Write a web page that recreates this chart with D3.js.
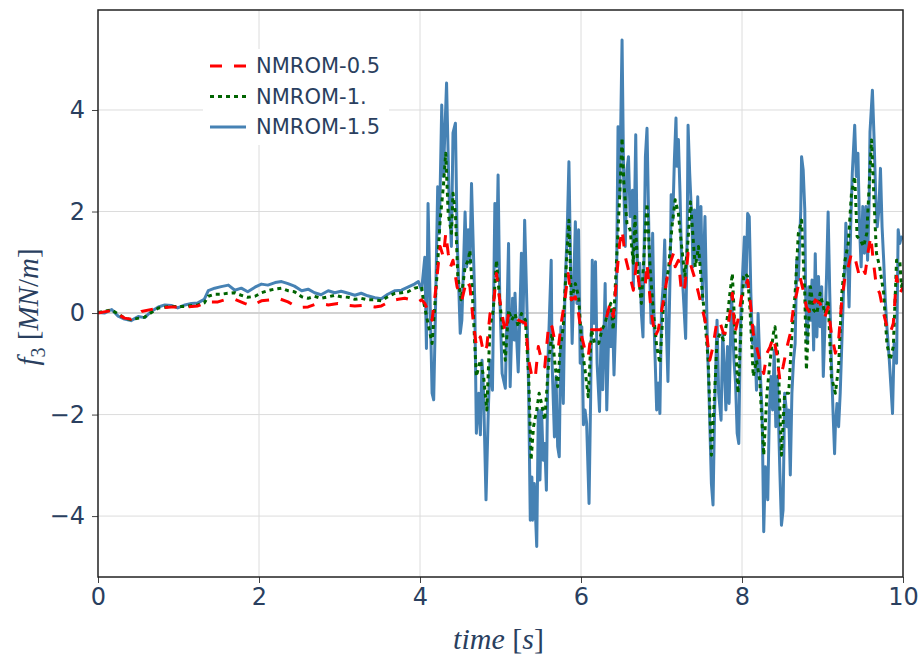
<!DOCTYPE html>
<html>
<head>
<meta charset="utf-8">
<script src="https://cdnjs.cloudflare.com/ajax/libs/d3/7.8.5/d3.min.js"></script>
<style>
    body { margin: 0; background: #fff; }
    text { font-family: "DejaVu Sans", Verdana, sans-serif; fill: #2a3f5f; }
    .mathText { font-family: "Liberation Serif", "DejaVu Serif", serif; }
</style>
</head>
<body>
<div id="chart"></div>
<script>
// Series data: time [s] and f3 [MN/m]
var tNm05 = [0, 0.17, 0.33, 0.41, 0.54, 0.75, 0.91, 1.08, 1.24, 1.37, 1.49, 1.57, 1.7, 1.82, 1.9, 2.03, 2.15, 2.24, 2.36, 2.48,
    2.61, 2.73, 2.86, 2.98, 3.06, 3.19, 3.31, 3.44, 3.52, 3.64, 3.73, 3.81, 3.89, 3.98,
    4.02, 4.06, 4.15, 4.19, 4.25, 4.29, 4.32, 4.35, 4.38, 4.41, 4.46, 4.52, 4.58, 4.62, 4.66, 4.7, 4.75, 4.79, 4.83, 4.87,
    4.91, 4.95, 4.99, 5.06, 5.1, 5.14, 5.22, 5.31, 5.35, 5.39, 5.43, 5.47, 5.51, 5.55, 5.6, 5.64, 5.68, 5.72, 5.76, 5.8,
    5.84, 5.88, 5.93, 5.97, 6.01, 6.05, 6.09, 6.13, 6.17, 6.24, 6.3, 6.36, 6.4, 6.44, 6.48, 6.51, 6.55, 6.59, 6.65, 6.69,
    6.73, 6.8, 6.82, 6.87, 6.92, 6.96, 7.01, 7.04, 7.09, 7.15, 7.17, 7.21, 7.25, 7.29, 7.33, 7.37, 7.42, 7.46, 7.5, 7.54,
    7.6, 7.64, 7.69, 7.73, 7.77, 7.81, 7.85, 7.88, 7.91, 7.95, 8.0, 8.04, 8.07, 8.1, 8.14, 8.18, 8.22, 8.27, 8.31, 8.35,
    8.39, 8.43, 8.47, 8.51, 8.56, 8.6, 8.64, 8.68, 8.72, 8.76, 8.8, 8.85, 8.91, 8.97, 9.03, 9.07, 9.11, 9.16, 9.2, 9.24,
    9.28, 9.32, 9.36, 9.4, 9.45, 9.49, 9.53, 9.57, 9.6, 9.63, 9.67, 9.71, 9.76, 9.8, 9.84, 9.88, 9.92, 9.96, 10];
var nmrom05 = [0, 0.05, -0.1, -0.12, 0.03, 0.1, 0.12, 0.12, 0.14, 0.22, 0.22, 0.26, 0.27, 0.19, 0.14, 0.24, 0.26, 0.29, 0.22, 0.11,
    0.12, 0.19, 0.16, 0.19, 0.16, 0.14, 0.15, 0.12, 0.14, 0.24, 0.27, 0.29, 0.26, 0.22,
    0.26, 0.19, -0.14, 0.39, 1.31, 1.11, 1.57, 1.18, 0.91, 1.04, 0.52, 0.26, 0.65, 0.52, -0.14, -0.66, -0.47, -0.79, -0.66, -0.01,
    0.12, 0.78, 0.26, -0.4, -0.01, -0.01, -0.14, -0.2, -0.93, -1.25, -1.3, -0.66, -0.93, -1.06, -0.2, -0.27, -0.6, -0.66, -0.14, 0.26,
    0.78, 0.26, 0.32, -0.01, -0.47, -0.73, -0.86, -0.33, -0.33, -0.33, -0.2, 0.19, -0.07, 0.65, 1.37, 1.64, 1.11, 0.85, 0.45, 0.98,
    0.45, 0.58, 0.98, 0.06, -0.47, -0.33, 0.12, 0.39, 0.91, 1.18, 0.91, 1.04, 0.39, 0.52, 1.18, 0.91, 0.65, 0.39, 0.12, -0.14,
    -0.93, -0.66, -0.14, -0.2, -0.4, -0.4, -0.01, 0.39, -0.4, -0.14, 0.39, 0.52, 0.65, 0.26, -0.4, -0.66, -0.93, -1.19, -0.79, -0.66,
    -0.47, -0.79, -1.32, -1.06, -0.66, -0.4, 0.12, 0.39, 0.72, 0.45, 0.12, -0.01, 0.26, 0.19, -0.07, 0.12, -0.4, -0.79, -0.53, 0.26,
    0.72, 0.91, 1.18, 1.11, 0.78, 0.91, 0.78, 1.24, 1.51, 1.04, 0.52, 0.39, -0.01, -0.27, -0.4, -0.2, 0.72, 0.39, 0.5];

var tNm1 = [0, 0.17, 0.33, 0.41, 0.58, 0.75, 0.91, 1.08, 1.24, 1.32, 1.37, 1.45, 1.53, 1.61, 1.7, 1.78, 1.86, 1.95, 2.03, 2.11,
    2.19, 2.28, 2.36, 2.44, 2.53, 2.61, 2.69, 2.77, 2.86, 2.94, 3.02, 3.11, 3.19, 3.27, 3.35, 3.44, 3.52, 3.6, 3.69, 3.77,
    3.85, 3.93,
    4.02, 4.04, 4.15, 4.21, 4.25, 4.29, 4.32, 4.35, 4.39, 4.41, 4.44, 4.47, 4.51, 4.56, 4.6, 4.62, 4.64, 4.68, 4.7, 4.75,
    4.79, 4.83, 4.87, 4.91, 4.95, 4.99, 5.06, 5.1, 5.14, 5.18, 5.22, 5.26, 5.31, 5.35, 5.38, 5.41, 5.45, 5.48, 5.51, 5.55,
    5.6, 5.64, 5.68, 5.71, 5.74, 5.78, 5.82, 5.85, 5.88, 5.93, 5.97, 6.01, 6.05, 6.09, 6.13, 6.17, 6.22, 6.26, 6.3, 6.34,
    6.37, 6.4, 6.44, 6.48, 6.51, 6.53, 6.57, 6.61, 6.65, 6.67, 6.71, 6.75, 6.8, 6.82, 6.86, 6.9, 6.94, 6.98, 7.02, 7.04,
    7.09, 7.13, 7.17, 7.21, 7.25, 7.29, 7.33, 7.36, 7.4, 7.42, 7.46, 7.5, 7.54, 7.58, 7.62, 7.66, 7.69, 7.73, 7.77, 7.81,
    7.85, 7.88, 7.91, 7.95, 7.99, 8.02, 8.04, 8.07, 8.1, 8.14, 8.18, 8.22, 8.27, 8.31, 8.35, 8.39, 8.41, 8.45, 8.49, 8.53,
    8.58, 8.62, 8.66, 8.7, 8.74, 8.78, 8.8, 8.85, 8.89, 8.93, 8.97, 9.03, 9.07, 9.11, 9.16, 9.2, 9.24, 9.28, 9.32, 9.36,
    9.4, 9.43, 9.47, 9.51, 9.55, 9.59, 9.61, 9.64, 9.67, 9.71, 9.76, 9.8, 9.84, 9.88, 9.92, 9.96, 9.98, 10];
var nmrom1 = [0.01, 0.06, -0.1, -0.13, -0.08, 0.1, 0.13, 0.13, 0.16, 0.2, 0.33, 0.37, 0.37, 0.39, 0.4, 0.35, 0.31, 0.33, 0.4, 0.44,
    0.47, 0.49, 0.44, 0.42, 0.32, 0.29, 0.33, 0.29, 0.32, 0.35, 0.32, 0.31, 0.27, 0.29, 0.26, 0.26, 0.24, 0.32, 0.39, 0.4,
    0.42, 0.49,
    0.52, 0.26, -0.6, 0.72, 1.83, 2.49, 3.15, 1.96, 1.57, 2.36, 1.96, 0.72, 0.26, 0.91, 1.04, 1.24, 0.72, -0.6, -1.25, -0.93,
    -1.25, -1.91, -0.27, 0.06, 1.04, 0.26, -0.93, 0.06, -0.14, -0.01, -0.27, -0.01, -0.14, -1.25, -2.9, -2.24, -1.91, -1.58, -1.78, -2.11,
    -0.93, -0.4, -1.06, -1.45, -0.73, -0.27, 1.04, 1.83, 0.26, 0.58, 0.32, -0.66, -1.12, -1.65, -0.33, -0.6, -0.6, -0.33, -0.2, 0.06,
    0.19, -0.33, 0.98, 2.29, 3.45, 2.62, 1.77, 1.64, 0.98, 1.9, 0.78, 0.19, 1.64, 2.16, 0.85, 0, -0.66, -0.99, 0.06, 0.39,
    0.91, 1.7, 2.23, 1.96, 1.31, 0.72, 1.44, 2.19, 1.31, 0.91, 1.31, 0.52, -0.14, -0.93, -2.8, -1.58, -0.53, -0.4, -0.53, -0.2,
    0.39, 0.78, -0.27, -1.58, -0.27, 0.72, 0.78, 0.72, 0.06, -1.25, -0.93, -1.32, -2.8, -1.58, -0.93, -0.4, -0.27, -0.93, -2.8, -1.58,
    -1.58, -0.4, 0.39, 1.57, 1.83, 0.39, -1.12, 0.52, 0.06, -0.01, 0.39, -0.01, 0.26, -1.25, -1.58, -1.06, 0.39, 1.04, 1.37, 2.36,
    2.69, 1.51, 1.44, 1.31, 1.57, 2.82, 3.41, 2.23, 1.18, 0.91, 0.39, -0.6, -0.93, -0.66, 1.04, 1.04, 0.52, 0.6];

var tNm15 = [0, 0.08, 0.17, 0.25, 0.33, 0.41, 0.5, 0.58, 0.66, 0.75, 0.83, 0.91, 0.99, 1.08, 1.16, 1.24, 1.32, 1.37, 1.45, 1.53,
    1.62, 1.7, 1.78, 1.86, 1.95, 2.03, 2.11, 2.2, 2.28, 2.36, 2.44, 2.53, 2.61, 2.69, 2.77, 2.86, 2.94, 3.02, 3.11, 3.19,
    3.27, 3.35, 3.44, 3.52, 3.6, 3.69, 3.77, 3.85, 3.93,
    3.98, 4.02, 4.06, 4.08, 4.1, 4.15, 4.17, 4.19, 4.22, 4.24, 4.27, 4.29, 4.33, 4.36, 4.39, 4.41, 4.44, 4.46, 4.5, 4.52,
    4.54, 4.56, 4.58, 4.6, 4.62, 4.64, 4.68, 4.7, 4.73, 4.75, 4.77, 4.79, 4.82, 4.85, 4.87, 4.9, 4.93, 4.95, 4.97,
    4.99, 5.02, 5.06, 5.1, 5.12, 5.15, 5.17, 5.18, 5.2, 5.22, 5.24, 5.26, 5.28, 5.3, 5.33, 5.35, 5.37, 5.39, 5.4, 5.42,
    5.45, 5.47, 5.49, 5.51, 5.53, 5.55, 5.57, 5.59, 5.63, 5.64, 5.67, 5.69, 5.71, 5.73, 5.75, 5.78, 5.8, 5.83, 5.85, 5.87, 5.89,
    5.93, 5.95, 5.97, 5.99, 6.01, 6.03, 6.05, 6.07, 6.1, 6.12, 6.14, 6.16, 6.18, 6.2, 6.23, 6.25, 6.27, 6.3, 6.32, 6.35,
    6.37, 6.39, 6.41, 6.44, 6.46, 6.48, 6.51, 6.53, 6.55, 6.57, 6.59, 6.61, 6.64, 6.65, 6.68, 6.7, 6.73, 6.75, 6.77, 6.8,
    6.82, 6.85, 6.87, 6.89, 6.91, 6.94, 6.96, 6.98, 7.0, 7.02, 7.04,
    7.06, 7.08, 7.11, 7.12, 7.14, 7.16, 7.18, 7.19, 7.21, 7.23, 7.25, 7.27, 7.3, 7.32, 7.33, 7.35, 7.38, 7.39, 7.41, 7.43,
    7.45, 7.47, 7.49, 7.51, 7.54, 7.57, 7.59, 7.62, 7.64, 7.66, 7.69, 7.71, 7.74, 7.76, 7.78, 7.8, 7.82, 7.84, 7.87, 7.9,
    7.92, 7.94, 7.96, 7.98, 8.0, 8.03,
    8.05, 8.07, 8.09, 8.11, 8.13, 8.15, 8.17, 8.18, 8.2, 8.22, 8.25, 8.27, 8.29, 8.32, 8.34, 8.36, 8.38, 8.4, 8.42, 8.44,
    8.47, 8.49, 8.51, 8.53, 8.55, 8.56, 8.58, 8.6, 8.62, 8.64, 8.66, 8.68, 8.7, 8.73, 8.74, 8.76, 8.78, 8.79, 8.81, 8.83,
    8.85, 8.87, 8.89, 8.91,
    8.93, 8.95, 8.97, 8.99, 9.01, 9.03, 9.05, 9.07, 9.09, 9.11, 9.13, 9.15, 9.16, 9.18, 9.2, 9.22, 9.24, 9.26, 9.28, 9.29,
    9.31, 9.33, 9.35, 9.37, 9.4, 9.42, 9.44, 9.46, 9.48, 9.5, 9.52, 9.54, 9.56, 9.58, 9.59, 9.62, 9.64, 9.66, 9.68, 9.7,
    9.72, 9.74, 9.76, 9.78, 9.8, 9.83, 9.85, 9.87, 9.89, 9.92, 9.94, 9.96, 9.98, 10];
var nmrom15 = [0.01, 0, 0.07, -0.06, -0.12, -0.15, -0.07, -0.09, 0.03, 0.12, 0.16, 0.15, 0.1, 0.16, 0.19, 0.2, 0.27, 0.44, 0.49, 0.52,
    0.55, 0.45, 0.49, 0.42, 0.51, 0.57, 0.55, 0.6, 0.62, 0.58, 0.53, 0.44, 0.47, 0.4, 0.36, 0.44, 0.4, 0.43, 0.39, 0.35,
    0.39, 0.34, 0.3, 0.28, 0.37, 0.44, 0.45, 0.51, 0.57,
    0.62, 0.45, 1.1, -0.7, 2.16, -1.58, -1.71, -0.14, 2.49, 1.57, 4.1, 2.69, 4.53, 2.36, 1.31, 3.55, 3.74, 1.57, -0.4, -0.14,
    0.91, 1.99, 0.91, 1.64, 0.98, 2.55, 0.26, -2.37, -1.58, -2.4, -0.93, -1.58, -3.68, -1.84, -0.93, -1.52, 2.16, 0.91, 2.72,
    0.39, -1.19, -1.48, 1.37, -1.45, 0.29, -0.53, 0.39, -0.47, -1.16, -0.07, 1.18, -0.2, 1.83, 0, -1.58, -4.08, -3.23, -4.08, -3.36,
    -4.6, -1.91, -3.29, -1.91, -2.9, -2.57, -3.49, -0.93, 1.04, -0.93, -2.44, -1.25, -2.63, -2.83, -0.27, -1.78, 0.39, 1.7, 2.98, 1.04, -0.6,
    1.8, 0.19, 1.64, -0.99, -0.27, -2.2, -1.91, -2.17, -3.75, -1.65, 1.04, -0.2, 1.01, -0.99, -1.94, -0.33, -1.51, 0.58, -1.91, 0,
    -0.66, 0.06, -1.22, 0.32, 3.67, 2.29, 5.38, 2.62, 1.31, 2.82, 3.08, 1.9, 2.42, 0.52, 3.51, 0.98, 0.98, 0, -0.47, 3.08,
    3.64, 0.98, -0.2, 1.57, -0.33, -1.91, -1.38, -1.98, 0.06, 0.52, 1.44,
    -0.27, -1.35, 1.04, 2.33, 1.83, 3.02, 3.84, 2.89, 3.42, 2.36, 0.98, 0.39, -0.5, 1.7, 3.7, 2.76, 1.7, 0.91, 2.03, 1.04,
    2.29, 1.04, 2.1, 0.26, 1.9, -0.6, -1.58, -3.36, -3.78, -1.91, -0.14, -1.58, -2.11, -0.4, -1.06, -1.91, -0.66, -1.78, 0.39, -0.93,
    -1.38, -2.37, -2.57, -0.27, 0.52, 1.5,
    0.52, 1.96, 1.9, 0.39, -0.6, -0.27, -1.06, -1.52, -0.01, -0.93, -1.98, -4.31, -3.03, -3.68, -1.91, -1.25, -1.91, -0.73, -2.24, -1.25,
    -3.1, -4.18, -3.88, -1.58, -1.91, -2.24, -1.91, -3.19, -1.58, -0.93, -0.6, 1.04, 0.65, 2.03, 3.08, 2.82, 2.03, 0.39, -0.6, 0.52,
    -0.14, 0.65, -0.73, 1.17,
    -0.47, 0.72, -0.27, 0.52, -1.25, -0.27, 0.72, 1.99, 0.39, -0.93, -1.91, -2.77, -2.24, -1.78, -2.24, -1.58, -0.6, 0.39, 0.98, 1.77,
    1.04, 0.12, 1.7, 2.75, 3.7, 2.69, 3.15, 1.7, 0.91, 2.1, 1.18, 2.1, 1.04, 2.23, 3.57, 4.39, 3.47, 2.36, 1.7, 2.03,
    2.85, 1.7, 1.04, 0.26, -0.27, -0.93, -1.45, -1.98, -0.6, -0.99, 1.64, 1.37, 1.5, 1.45];

var seriesNames = ['NMROM-0.5', 'NMROM-1.', 'NMROM-1.5'];
var seriesColors = ['#ff0000', '#006400', '#4682b4'];
var xTicks = [0, 2, 4, 6, 8, 10];
var yTicks = [-4, -2, 0, 2, 4];

// Setup SVG
var svgWidth = 921;
var svgHeight = 660;
var margin = { top: 10, right: 18, bottom: 83, left: 98 };
var width = svgWidth - margin.left - margin.right;
var height = svgHeight - margin.top - margin.bottom;

var svg = d3.select('#chart')
    .append('svg')
    .attr('width', svgWidth)
    .attr('height', svgHeight);
var chartGroup = svg.append('g')
    .attr('transform', `translate(${margin.left}, ${margin.top})`);

var xScale = d3.scaleLinear().domain([0, 10]).range([0, width]);
var yScale = d3.scaleLinear().domain([-5.2, 5.97]).range([height, 0]);

// Grid lines
chartGroup.append('g').selectAll('line')
    .data(xTicks.filter(d => d > 0 && d < 10))
    .enter()
    .append('line')
    .attr('x1', d => xScale(d)).attr('x2', d => xScale(d))
    .attr('y1', 0).attr('y2', height)
    .attr('stroke', '#dcdcdc')
    .attr('stroke-width', 1);
chartGroup.append('g').selectAll('line')
    .data(yTicks)
    .enter()
    .append('line')
    .attr('x1', 0).attr('x2', width)
    .attr('y1', d => yScale(d)).attr('y2', d => yScale(d))
    .attr('stroke', d => d === 0 ? '#d2d2d2' : '#dcdcdc')
    .attr('stroke-width', d => d === 0 ? 2 : 1);

// Lines
chartGroup.append('clipPath')
    .attr('id', 'plotClip')
    .append('rect')
    .attr('width', width)
    .attr('height', height);

var seriesData = [
    tNm05.map((t, i) => [t, nmrom05[i]]),
    tNm1.map((t, i) => [t, nmrom1[i]]),
    tNm15.map((t, i) => [t, nmrom15[i]])
];
var dashes = ['12,12', '4,4', null];
var widths = [3, 3, 3];

var line = d3.line()
    .x(d => xScale(d[0]))
    .y(d => yScale(d[1]));

var linesGroup = chartGroup.append('g').attr('clip-path', 'url(#plotClip)');
[2, 1, 0].forEach(function(i) {
    linesGroup.append('path')
        .datum(seriesData[i])
        .attr('d', line)
        .attr('fill', 'none')
        .attr('stroke', seriesColors[i])
        .attr('stroke-width', widths[i])
        .attr('stroke-dasharray', dashes[i])
        .attr('stroke-linejoin', 'round');
});

// Axes
var bottomAxis = d3.axisBottom(xScale)
    .tickValues(xTicks)
    .tickSize(6)
    .tickPadding(5)
    .tickFormat(d3.format('d'));
var leftAxis = d3.axisLeft(yScale)
    .tickValues(yTicks)
    .tickSize(6)
    .tickPadding(7)
    .tickFormat(d => d < 0 ? '\u2212' + Math.abs(d) : d);

var xAxis = chartGroup.append('g')
    .attr('transform', `translate(0, ${height})`)
    .call(bottomAxis);
var yAxis = chartGroup.append('g')
    .call(leftAxis);
[xAxis, yAxis].forEach(function(ax) {
    ax.select('.domain').remove();
    ax.selectAll('line').attr('stroke', '#444');
    ax.selectAll('text')
        .attr('fill', '#2a3f5f')
        .style('font-size', '24px')
        .style('font-family', '"DejaVu Sans", Verdana, sans-serif');
});

// Frame
chartGroup.append('rect')
    .attr('width', width)
    .attr('height', height)
    .attr('fill', 'none')
    .attr('stroke', '#222')
    .attr('stroke-width', 1.5);

// Axis titles
var xTitle = svg.append('text')
    .classed('mathText', true)
    .attr('x', margin.left + width / 2 - 2)
    .attr('y', 649)
    .attr('text-anchor', 'middle')
    .style('font-size', '30px');
xTitle.append('tspan').style('font-style', 'italic').text('time');
xTitle.append('tspan').text(' [');
xTitle.append('tspan').style('font-style', 'italic').text('s');
xTitle.append('tspan').text(']');

var yTitle = svg.append('text')
    .classed('mathText', true)
    .attr('transform', `translate(38, 307) rotate(-90)`)
    .attr('text-anchor', 'middle')
    .style('font-size', '29px');
yTitle.append('tspan').style('font-style', 'italic').text('f');
yTitle.append('tspan').attr('dy', 7).style('font-size', '20px').text('3');
yTitle.append('tspan').attr('dy', -7).text(' [');
yTitle.append('tspan').style('font-style', 'italic').text('MN');
yTitle.append('tspan').text('/');
yTitle.append('tspan').style('font-style', 'italic').text('m');
yTitle.append('tspan').text(']');

// Legend
var legend = svg.append('g').attr('transform', 'translate(203, 49)');
legend.append('rect')
    .attr('width', 186)
    .attr('height', 96)
    .attr('fill', '#fff');
seriesNames.forEach(function(name, i) {
    var row = legend.append('g').attr('transform', `translate(0, ${17 + i * 30.5})`);
    row.append('line')
        .attr('x1', 7).attr('x2', 43)
        .attr('stroke', seriesColors[i])
        .attr('stroke-width', widths[i])
        .attr('stroke-dasharray', dashes[i]);
    row.append('text')
        .attr('x', 53)
        .attr('dy', '0.35em')
        .style('font-size', '21px')
        .text(name);
});
</script>
</body>
</html>
